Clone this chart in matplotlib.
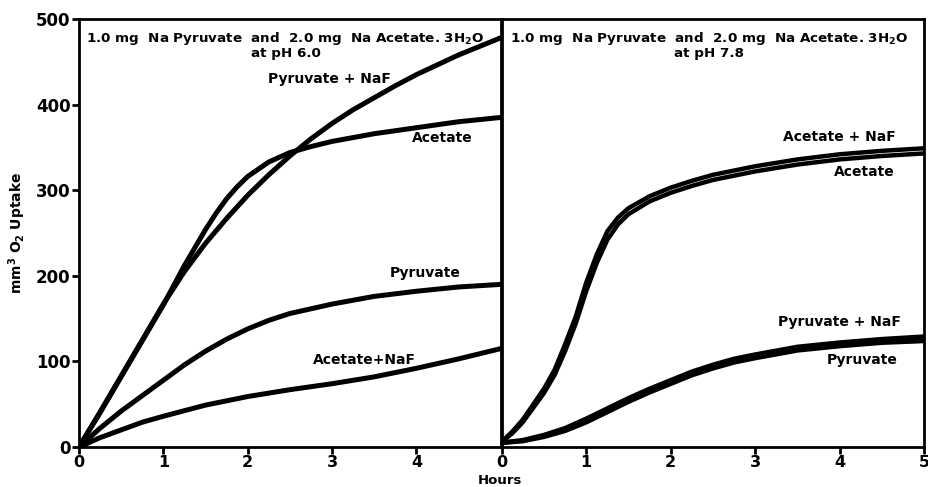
import matplotlib
matplotlib.use("Agg")
import matplotlib.pyplot as plt

# ---- data (hours, mm3 O2) ----
# pH 6.0 panel
ph6_acetate_x = [0, 0.25, 0.5, 0.75, 1, 1.25, 1.5, 1.625, 1.75, 1.875, 2, 2.25, 2.5, 2.75, 3, 3.5, 4, 4.5, 5]
ph6_acetate_y = [0, 40, 82, 124, 166, 212, 254, 273, 290, 304, 316, 333, 344, 351, 357, 366, 373, 380, 385]
ph6_pyr_naf_x = [0, 0.25, 0.5, 0.75, 1, 1.25, 1.5, 1.75, 2, 2.25, 2.5, 2.75, 3, 3.25, 3.5, 3.75, 4, 4.5, 5]
ph6_pyr_naf_y = [0, 41, 83, 125, 167, 205, 238, 267, 294, 318, 340, 360, 378, 394, 408, 422, 435, 458, 478]
ph6_pyruvate_x = [0, 0.25, 0.5, 0.75, 1, 1.25, 1.5, 1.75, 2, 2.25, 2.5, 3, 3.5, 4, 4.5, 5]
ph6_pyruvate_y = [0, 22, 42, 60, 78, 96, 112, 126, 138, 148, 156, 167, 176, 182, 187, 190]
ph6_ace_naf_x = [0, 0.25, 0.5, 0.75, 1, 1.5, 2, 2.5, 3, 3.5, 4, 4.5, 5]
ph6_ace_naf_y = [0, 11, 20, 29, 36, 49, 59, 67, 74, 82, 92, 103, 115]

# pH 7.8 panel
ph78_ace_x = [0, 0.125, 0.25, 0.375, 0.5, 0.625, 0.75, 0.875, 1.0, 1.125, 1.25, 1.375,
              1.5, 1.75, 2, 2.25, 2.5, 3, 3.5, 4, 4.5, 5]
ph78_ace_naf_y = [6, 18, 32, 50, 68, 90, 120, 152, 192, 225, 252, 268,
                  279, 293, 303, 311, 318, 328, 336, 342, 346, 349]
ph78_acetate_y = [6, 16, 29, 46, 63, 84, 112, 144, 182, 215, 242, 260,
                  272, 287, 297, 305, 312, 322, 330, 336, 340, 343]
ph78_pyr_x = [0, 0.25, 0.5, 0.75, 1, 1.25, 1.5, 1.75, 2, 2.25, 2.5, 2.75, 3, 3.5, 4, 4.5, 5]
ph78_pyr_naf_y = [5, 8, 14, 22, 33, 45, 57, 68, 78, 88, 96, 103, 108, 117, 122, 126, 129]
ph78_pyruvate_y = [5, 7, 12, 19, 29, 41, 53, 64, 74, 84, 92, 99, 104, 113, 118, 122, 124]

titles = ["1.0 mg  Na Pyruvate  and  2.0 mg  Na Acetate. 3H$_\\mathbf{2}$O\nat pH 6.0",
          "1.0 mg  Na Pyruvate  and  2.0 mg  Na Acetate. 3H$_\\mathbf{2}$O\nat pH 7.8"]

plt.rcParams['font.family'] = 'DejaVu Sans'
plt.rcParams['font.weight'] = 'bold'
plt.rcParams['mathtext.default'] = 'bf'

fig = plt.figure(figsize=(9.29, 4.87), dpi=100)
ax1 = fig.add_axes([0.085, 0.082, 0.454, 0.879])
ax2 = fig.add_axes([0.540, 0.082, 0.455, 0.879])

lw = 3.6
for xs, ys in [(ph6_acetate_x, ph6_acetate_y), (ph6_pyr_naf_x, ph6_pyr_naf_y),
               (ph6_pyruvate_x, ph6_pyruvate_y), (ph6_ace_naf_x, ph6_ace_naf_y)]:
    ax1.plot(xs, ys, color='black', lw=lw, solid_joinstyle='round')

ax2.plot(ph78_ace_x, ph78_ace_naf_y, color='black', lw=3.2, solid_joinstyle='round')
ax2.plot(ph78_ace_x, ph78_acetate_y, color='black', lw=3.2, solid_joinstyle='round')
ax2.plot(ph78_pyr_x, ph78_pyr_naf_y, color='black', lw=3.4, solid_joinstyle='round')
ax2.plot(ph78_pyr_x, ph78_pyruvate_y, color='black', lw=3.4, solid_joinstyle='round')

lab = dict(fontsize=10, fontweight='bold', ha='center', va='center')
ax1.text(2.97, 430, "Pyruvate + NaF", **lab)
ax1.text(4.31, 361, "Acetate", **lab)
ax1.text(4.1, 203, "Pyruvate", **lab)
ax1.text(3.39, 102, "Acetate+NaF", **lab)
ax2.text(4.0, 362, "Acetate + NaF", **lab)
ax2.text(4.29, 321, "Acetate", **lab)
ax2.text(4.0, 146, "Pyruvate + NaF", **lab)
ax2.text(4.26, 102, "Pyruvate", **lab)

for ax, title in zip((ax1, ax2), titles):
    ax.set_xlim(0, 5)
    ax.set_ylim(0, 500)
    ax.text(0.49, 0.975, title, transform=ax.transAxes, ha='center', va='top',
            fontsize=9.7, fontweight='bold', linespacing=1.05)
    for s in ax.spines.values():
        s.set_linewidth(2)
    ax.tick_params(axis='x', direction='out', length=5, width=2, labelsize=11.5, pad=1)
    ax.tick_params(axis='y', direction='out', length=5, width=2, labelsize=12, pad=1)

ax1.set_xticks([0, 1, 2, 3, 4])
ax1.set_yticks([0, 100, 200, 300, 400, 500])
ax2.set_xticks([0, 1, 2, 3, 4, 5])
ax2.set_yticks([])

ax1.set_ylabel("mm$^3$ O$_2$ Uptake", fontsize=10, fontweight='bold', labelpad=6)
fig.text(0.538, 0.0, "Hours", ha='center', va='bottom', fontsize=9.5, fontweight='bold')

fig.savefig("out.png", dpi=100)
